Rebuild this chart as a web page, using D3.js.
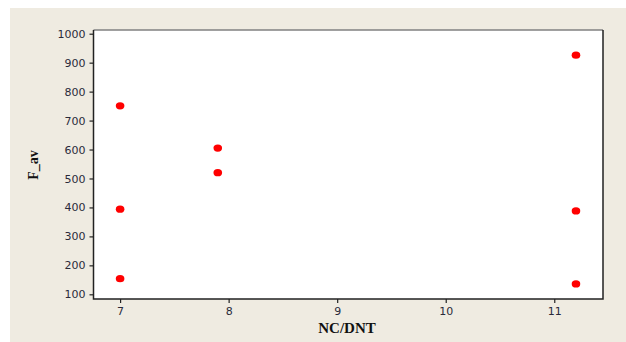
<!DOCTYPE html>
<html>
<head>
<meta charset="utf-8">
<script src="https://cdn.jsdelivr.net/npm/d3@7"></script>
<style>
  body { margin: 0; background: #fff; }
  svg { display: block; }
</style>
</head>
<body>
<svg id="chart"></svg>
<script>
// values
const ncDnt = [7, 7, 7, 7.9, 7.9, 11.2, 11.2, 11.2]
const fAv = [751, 394, 154, 605, 520, 926, 388, 136]
const xTicks = [7, 8, 9, 10, 11]
const yTicks = [100, 200, 300, 400, 500, 600, 700, 800, 900, 1000]

const width = 626
const height = 342
const plot = { left: 93.5, top: 30, right: 603, bottom: 299 }

const svg = d3.select('#chart')
  .attr('width', width)
  .attr('height', height)

svg.append('rect')
  .attr('x', 10).attr('y', 8)
  .attr('width', width - 10).attr('height', height - 8)
  .attr('fill', '#efebe1')

const x = d3.scaleLinear().domain([6.755, 11.449]).range([plot.left, plot.right])
const y = d3.scaleLinear().domain([83.8, 1012.8]).range([plot.bottom, plot.top])

svg.append('rect')
  .attr('x', plot.left).attr('y', plot.top)
  .attr('width', plot.right - plot.left).attr('height', plot.bottom - plot.top)
  .attr('fill', '#fff')

// frame: top edge is lighter in the original
svg.append('path')
  .attr('d', `M${plot.left},${plot.top}H${plot.right}`)
  .attr('stroke', '#808080').attr('stroke-width', 1.5)
svg.append('path')
  .attr('d', `M${plot.right},${plot.top}V${plot.bottom}H${plot.left}V${plot.top}`)
  .attr('fill', 'none')
  .attr('stroke', '#222').attr('stroke-width', 1.5)

const xAxis = svg.append('g')
  .attr('transform', `translate(0,${plot.bottom})`)
  .call(d3.axisBottom(x).tickValues(xTicks).tickSize(4).tickPadding(4).tickFormat(d3.format('d')))
const yAxis = svg.append('g')
  .attr('transform', `translate(${plot.left},0)`)
  .call(d3.axisLeft(y).tickValues(yTicks).tickSize(4).tickPadding(4).tickFormat(d3.format('d')))

for (const ax of [xAxis, yAxis]) {
  ax.select('.domain').remove()
  ax.selectAll('.tick line').attr('stroke', '#222').attr('stroke-width', 1.2)
  ax.selectAll('.tick text')
    .attr('fill', '#2a2a3a')
    .style('font-family', 'DejaVu Sans, sans-serif')
    .style('font-size', '11px')
}

svg.append('g')
  .selectAll('ellipse')
  .data(ncDnt.map((d, i) => ({ x: d, y: fAv[i] })))
  .join('ellipse')
  .attr('cx', d => x(d.x))
  .attr('cy', d => y(d.y))
  .attr('rx', 4.3)
  .attr('ry', 3.6)
  .attr('fill', '#ff0000')

svg.append('text')
  .attr('x', 347).attr('y', 333)
  .attr('text-anchor', 'middle')
  .style('font-family', 'Liberation Serif, serif')
  .style('font-weight', 'bold')
  .style('font-size', '15px')
  .attr('fill', '#111')
  .text('NC/DNT')

svg.append('text')
  .attr('transform', 'translate(38,165) rotate(-90)')
  .attr('text-anchor', 'middle')
  .style('font-family', 'Liberation Serif, serif')
  .style('font-weight', 'bold')
  .style('font-size', '14px')
  .attr('fill', '#111')
  .text('F_av')
</script>
</body>
</html>
